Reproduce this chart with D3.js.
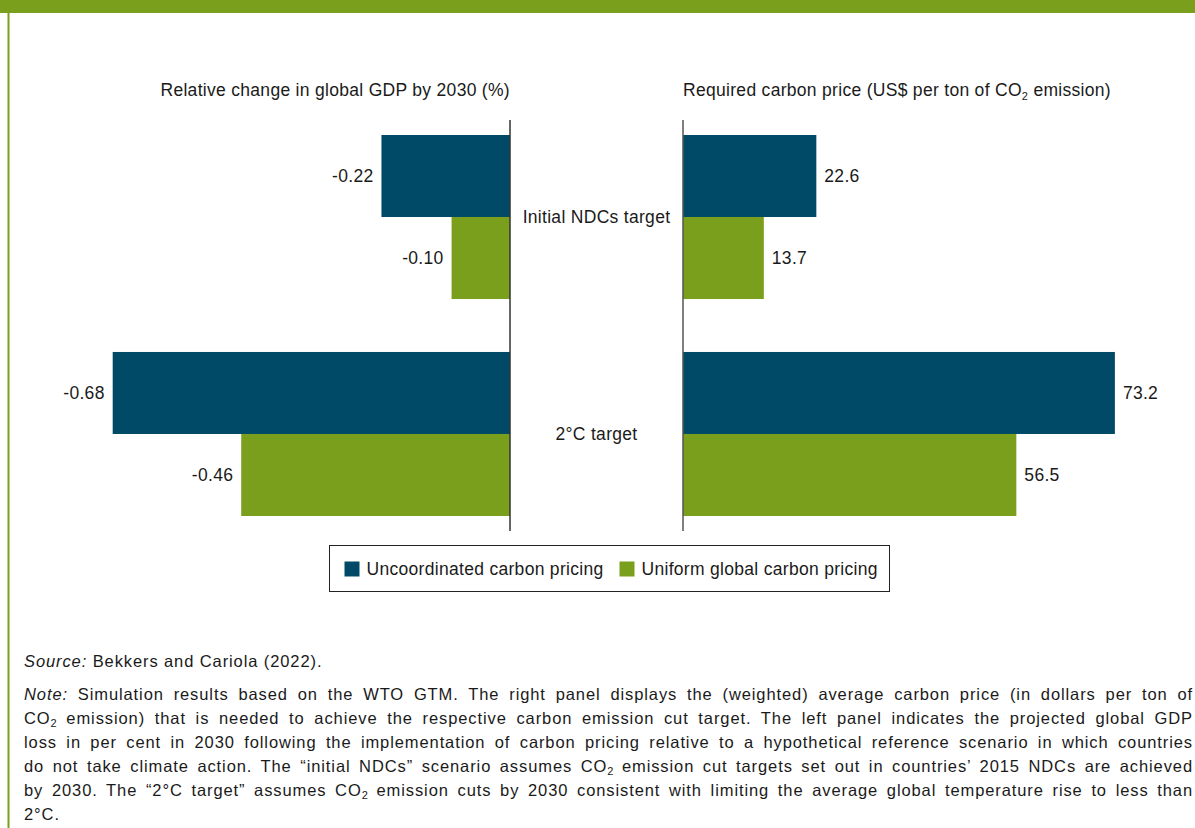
<!DOCTYPE html>
<html>
<head>
<meta charset="utf-8">
<script src="https://cdn.jsdelivr.net/npm/d3@7"></script>
<style>
  body { margin: 0; background: #fff; font-family: "Liberation Sans", Arial, Helvetica, sans-serif; }
  #wrap { position: relative; width: 1195px; height: 828px; overflow: hidden; }
  svg { position: absolute; left: 0; top: 0; }
  svg text { letter-spacing: 0.3px; }
  #notes { position: absolute; left: 24px; top: 649px; width: 1169px; font-size: 16.5px; letter-spacing: 0.9px; color: #1a1a1a; }
  #notes .ln { height: 24px; line-height: 24px; text-align: justify; text-align-last: justify; white-space: nowrap; }
  #notes .ln.last { text-align-last: left; }
  #notes sub { font-size: 11px; vertical-align: -3px; line-height: 0; letter-spacing: 0; }
</style>
</head>
<body>
<div id="wrap">
<svg id="chart" width="1195" height="828"></svg>
<div id="notes"></div>
</div>
<script>
/* Data */
var categories = ["Initial NDCs target", "2°C target"];
var series = ["Uncoordinated carbon pricing", "Uniform global carbon pricing"];
// relative change in global GDP by 2030 (%)
var gdpChange = [[-0.22, -0.10], [-0.68, -0.46]];
// required carbon price (US$ per ton of CO2)
var carbonPrice = [[22.6, 13.7], [73.2, 56.5]];
var colors = ["#004a67", "#7a9f1d"];

var noteLines = [
  "<i>Note:</i> Simulation results based on the WTO GTM. The right panel displays the (weighted) average carbon price (in dollars per ton of",
  "CO<sub>2</sub> emission) that is needed to achieve the respective carbon emission cut target. The left panel indicates the projected global GDP",
  "loss in per cent in 2030 following the implementation of carbon pricing relative to a hypothetical reference scenario in which countries",
  "do not take climate action. The \u201Cinitial NDCs\u201D scenario assumes CO<sub>2</sub> emission cut targets set out in countries\u2019 2015 NDCs are achieved",
  "by 2030. The \u201C2°C target\u201D assumes CO<sub>2</sub> emission cuts by 2030 consistent with limiting the average global temperature rise to less than",
  "2°C."
];

/* Layout */
var svg = d3.select("#chart");
var green = colors[1];
var fs = 17.5;

// frame
svg.append("rect").attr("x", 0).attr("y", 0).attr("width", 1195).attr("height", 13).attr("fill", green);
svg.append("rect").attr("x", 7.5).attr("y", 0).attr("width", 2).attr("height", 828).attr("fill", green);

var y = d3.scaleBand().domain(categories).range([135, 516]).paddingInner(0.244).paddingOuter(0);
var yInner = d3.scaleBand().domain(series).range([0, y.bandwidth()]);

var xLeft = d3.scaleLinear().domain([-0.7, 0]).range([101, 510]);
var xRight = d3.scaleLinear().domain([0, 75]).range([683, 1125.5]);

var rows = [];
categories.forEach(function(c, i){
  series.forEach(function(s, j){
    rows.push({cat: c, ser: s, j: j, gdp: gdpChange[i][j], price: carbonPrice[i][j]});
  });
});

// left bars
svg.selectAll("rect.gdp").data(rows).enter().append("rect")
  .attr("class", "gdp")
  .attr("x", function(d){ return xLeft(d.gdp); })
  .attr("y", function(d){ return y(d.cat) + yInner(d.ser); })
  .attr("width", function(d){ return xLeft(0) - xLeft(d.gdp); })
  .attr("height", yInner.bandwidth())
  .attr("fill", function(d){ return colors[d.j]; });

svg.selectAll("text.gdp").data(rows).enter().append("text")
  .attr("class", "gdp")
  .attr("x", function(d){ return xLeft(d.gdp) - 8; })
  .attr("y", function(d){ return y(d.cat) + yInner(d.ser) + yInner.bandwidth() / 2; })
  .attr("dy", "0.35em")
  .attr("text-anchor", "end")
  .attr("font-size", fs)
  .attr("fill", "#1a1a1a")
  .text(function(d){ return d3.format(".2f")(d.gdp).replace("\u2212", "-"); });

// right bars
svg.selectAll("rect.price").data(rows).enter().append("rect")
  .attr("class", "price")
  .attr("x", xRight(0))
  .attr("y", function(d){ return y(d.cat) + yInner(d.ser); })
  .attr("width", function(d){ return xRight(d.price) - xRight(0); })
  .attr("height", yInner.bandwidth())
  .attr("fill", function(d){ return colors[d.j]; });

svg.selectAll("text.price").data(rows).enter().append("text")
  .attr("class", "price")
  .attr("x", function(d){ return xRight(d.price) + 8; })
  .attr("y", function(d){ return y(d.cat) + yInner(d.ser) + yInner.bandwidth() / 2; })
  .attr("dy", "0.35em")
  .attr("font-size", fs)
  .attr("fill", "#1a1a1a")
  .text(function(d){ return d3.format(".1f")(d.price); });

// zero axis lines
var yTop = y.range()[0] - 15, yBot = y.range()[1] + 15;
svg.append("line").attr("x1", xLeft(0)).attr("x2", xLeft(0)).attr("y1", yTop).attr("y2", yBot)
  .attr("stroke", "#333").attr("stroke-width", 1.5);
svg.append("line").attr("x1", xRight(0)).attr("x2", xRight(0)).attr("y1", yTop).attr("y2", yBot)
  .attr("stroke", "#555").attr("stroke-width", 1.5);

// category labels
svg.selectAll("text.cat").data(categories).enter().append("text")
  .attr("class", "cat")
  .attr("x", (xLeft(0) + xRight(0)) / 2)
  .attr("y", function(d){ return y(d) + y.bandwidth() / 2; })
  .attr("dy", "0.35em")
  .attr("text-anchor", "middle")
  .attr("font-size", fs)
  .attr("fill", "#1a1a1a")
  .text(function(d){ return d; });

// panel titles
svg.append("text").attr("x", xLeft(0)).attr("y", 96).attr("text-anchor", "end")
  .attr("font-size", fs).attr("fill", "#1a1a1a")
  .text("Relative change in global GDP by 2030 (%)");
var rt = svg.append("text").attr("x", xRight(0)).attr("y", 96)
  .attr("font-size", fs).attr("fill", "#1a1a1a");
rt.append("tspan").text("Required carbon price (US$ per ton of CO");
rt.append("tspan").attr("font-size", 11).attr("dy", 4).text("2");
rt.append("tspan").attr("dy", -4).text(" emission)");

// legend
var lg = svg.append("g").attr("transform", "translate(329.5,545.5)");
lg.append("rect").attr("width", 560).attr("height", 46).attr("fill", "#fff")
  .attr("stroke", "#222").attr("stroke-width", 1);
var legX = [15, 290];
series.forEach(function(s, i){
  var g = lg.append("g").attr("transform", "translate(" + legX[i] + ",16)");
  g.append("rect").attr("width", 15).attr("height", 15).attr("fill", colors[i]);
  g.append("text").attr("x", 22).attr("y", 7.5).attr("dy", "0.35em")
    .attr("font-size", fs).attr("fill", "#1a1a1a").text(s);
});

// source and notes
var notes = d3.select("#notes");
notes.append("div").attr("class", "ln last").html("<i>Source:</i> Bekkers and Cariola (2022).");
notes.append("div").style("height", "9px");
noteLines.forEach(function(l, i){
  notes.append("div").attr("class", "ln" + (i === noteLines.length - 1 ? " last" : "")).html(l);
});
</script>
</body>
</html>
